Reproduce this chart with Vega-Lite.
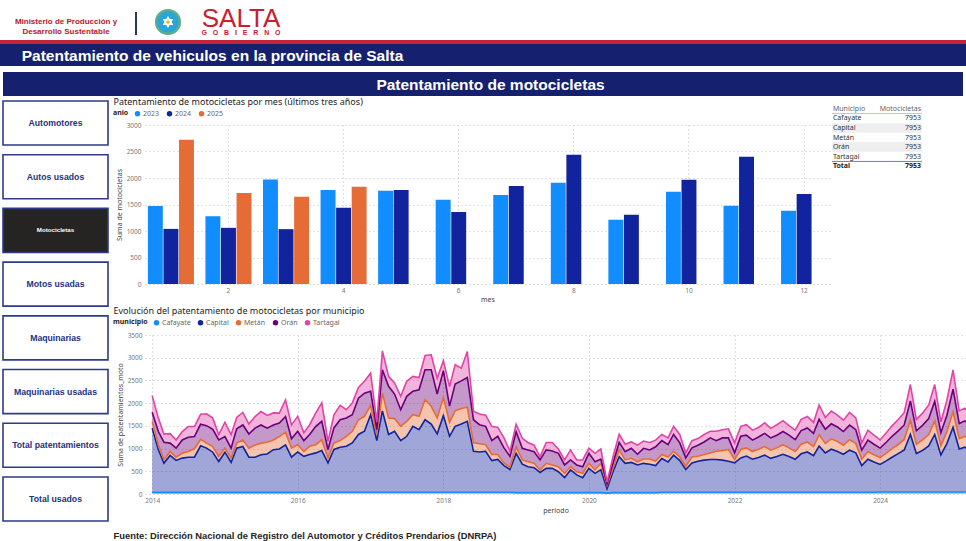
{
"$schema":"https://vega.github.io/schema/vega-lite/v6.json",
"padding":0,
"background":"#ffffff",
"spacing":0,
"resolve":{"scale":{"color":"independent","fill":"independent","size":"independent"},"legend":{"color":"independent","fill":"independent","size":"independent"}},
"config":{
 "view":{"stroke":null},
 "font":"Noto Sans",
 "axis":{"domain":false,"ticks":false,"gridDash":[1,3],"gridColor":"#c4c4c4","labelFontSize":6.5,"labelColor":"#777777","titleFontSize":7,"titleColor":"#444444","titleFontWeight":"normal","labelFont":"Noto Sans","titleFont":"Noto Sans"},
 "legend":{"direction":"horizontal","titleOrient":"left","symbolType":"circle","symbolSize":30,"symbolOpacity":1,"labelFontSize":7,"titleFontSize":7,"labelColor":"#666666","titleColor":"#252423","titlePadding":5,"columnPadding":6,"labelOffset":2,"symbolStrokeWidth":0,"labelFont":"Noto Sans","titleFont":"Noto Sans"}
},
"vconcat":[
 {"hconcat":[
   {"width":1,"height":40,"data":{"values":[{}]},"mark":{"type":"rect","opacity":0}},
   {"width":130,"height":40,"data":{"values":[{}]},"mark":{"type":"text","text":["Ministerio de Producción y","Desarrollo Sustentable"],"font":"Liberation Sans","fontWeight":"bold","fontSize":8,"color":"#b5172b","align":"center","baseline":"middle","lineHeight":9.5,"dy":2}},
   {"width":4,"height":40,"data":{"values":[{}]},"mark":{"type":"rect","opacity":0}},
   {"vconcat":[
     {"width":2,"height":12,"data":{"values":[{}]},"mark":{"type":"rect","opacity":0}},
     {"width":2,"height":23,"view":{"fill":"#2b3566","stroke":null},"data":{"values":[{}]},"mark":{"type":"rect","opacity":0}}
   ],"spacing":0},
   {"width":14,"height":40,"data":{"values":[{}]},"mark":{"type":"rect","opacity":0}},
   {"vconcat":[
     {"width":28,"height":4,"data":{"values":[{}]},"mark":{"type":"rect","opacity":0}},
     {"width":28,"height":36,"data":{"values":[{}]},"layer":[
       {"mark":{"type":"point","shape":"circle","size":560,"filled":true,"fill":"#2ba4d8","stroke":"#5aae8f","strokeWidth":2.5,"opacity":1}},
       {"mark":{"type":"point","shape":"M0,-1L0.29,-0.5L0.87,-0.5L0.58,0L0.87,0.5L0.29,0.5L0,1L-0.29,0.5L-0.87,0.5L-0.58,0L-0.87,-0.5L-0.29,-0.5Z","size":150,"filled":true,"fill":"#ffffff","strokeWidth":0,"opacity":1}},
       {"mark":{"type":"point","shape":"circle","size":12,"filled":true,"fill":"#f0b429","strokeWidth":0,"opacity":1}}
     ]}
   ],"spacing":0},
   {"width":4,"height":40,"data":{"values":[{}]},"mark":{"type":"rect","opacity":0}},
   {"width":104,"height":40,"data":{"values":[{}]},"layer":[
     {"mark":{"type":"text","text":"SALTA","font":"Liberation Sans","fontSize":26,"color":"#c8202f","align":"center","baseline":"alphabetic","dy":7}},
     {"mark":{"type":"text","text":"G\u00a0\u00a0\u00a0O\u00a0\u00a0\u00a0B\u00a0\u00a0\u00a0I\u00a0\u00a0\u00a0E\u00a0\u00a0\u00a0R\u00a0\u00a0\u00a0N\u00a0\u00a0\u00a0O","font":"Liberation Sans","fontWeight":"bold","fontSize":7,"color":"#c8202f","align":"center","baseline":"alphabetic","dy":15}}
   ]}
 ],"spacing":0},
 {"width":966,"height":4,"view":{"fill":"#c1263d","stroke":null},"data":{"values":[{}]},"mark":{"type":"rect","opacity":0}},
 {"hconcat":[
   {"width":425,"height":22,"view":{"fill":"#15216e","stroke":null},"data":{"values":[{}]},"mark":{"type":"text","text":"Patentamiento de vehiculos en la provincia de Salta","font":"Liberation Sans","fontWeight":"bold","fontSize":15.5,"color":"#ffffff","align":"center","baseline":"middle","dy":1}},
   {"width":541,"height":22,"view":{"fill":"#15216e","stroke":null},"data":{"values":[{}]},"mark":{"type":"rect","opacity":0}}
 ],"spacing":0},
 {"width":966,"height":6,"data":{"values":[{}]},"mark":{"type":"rect","opacity":0}},
 {"hconcat":[
   {"width":3,"height":24,"data":{"values":[{}]},"mark":{"type":"rect","opacity":0}},
   {"width":17,"height":24,"view":{"fill":"#15216e","stroke":null},"data":{"values":[{}]},"mark":{"type":"rect","opacity":0}},
   {"width":941,"height":24,"view":{"fill":"#15216e","stroke":null},"data":{"values":[{}]},"mark":{"type":"text","text":"Patentamiento de motocicletas","font":"Liberation Sans","fontWeight":"bold","fontSize":15.5,"color":"#ffffff","align":"center","baseline":"middle","dy":1}},
   {"width":2,"height":24,"view":{"fill":"#15216e","stroke":null},"data":{"values":[{}]},"mark":{"type":"rect","opacity":0}}
 ],"spacing":0},
 {"hconcat":[
   {"width":3,"height":1,"data":{"values":[{}]},"mark":{"type":"rect","opacity":0}},
   {"vconcat":[
     {"width":105,"height":5,"data":{"values":[{}]},"mark":{"type":"rect","opacity":0}},
     {"width":105,"height":420,
      "data":{"values":[
        {"boton":"Automotores","estado":"inactivo"},
        {"boton":"Autos usados","estado":"inactivo"},
        {"boton":"Motocicletas","estado":"activo"},
        {"boton":"Motos usadas","estado":"inactivo"},
        {"boton":"Maquinarias","estado":"inactivo"},
        {"boton":"Maquinarias usadas","estado":"inactivo"},
        {"boton":"Total patentamientos","estado":"inactivo"},
        {"boton":"Total usados","estado":"inactivo"}
      ]},
      "encoding":{"y":{"field":"boton","type":"nominal","sort":null,"scale":{"paddingInner":0.18,"paddingOuter":0},"axis":null}},
      "layer":[
        {"mark":{"type":"rect","stroke":"#2e3a8c","strokeWidth":1.6},
         "encoding":{"fill":{"field":"estado","type":"nominal","scale":{"domain":["inactivo","activo"],"range":["#ffffff","#252423"]},"legend":null}}},
        {"mark":{"type":"text","font":"Liberation Sans","fontWeight":"bold","baseline":"middle"},
         "encoding":{"text":{"field":"boton"},
           "color":{"field":"estado","type":"nominal","scale":{"domain":["inactivo","activo"],"range":["#24327f","#ffffff"]},"legend":null},
           "size":{"field":"estado","type":"ordinal","scale":{"domain":["inactivo","activo"],"range":[8.7,6.2]},"legend":null}}}
      ]}
   ],"spacing":0,"bounds":"flush","resolve":{"scale":{"color":"independent","fill":"independent","size":"independent"},"legend":{"color":"independent","fill":"independent","size":"independent"}}},
   {"width":110,"height":1,"data":{"values":[{}]},"mark":{"type":"rect","opacity":0}},
   {"vconcat":[
     {"width":1,"height":1,"data":{"values":[{}]},"mark":{"type":"rect","opacity":0}},
     {"width":1,"height":9,"data":{"values":[{}]},"mark":{"type":"text","text":"Patentamiento de motocicletas por mes (últimos tres años)","font":"Noto Sans","fontSize":9,"color":"#252423","align":"left","baseline":"middle"}},
     {"width":1,"height":200,"data":{"values":[{}]},"mark":{"type":"rect","opacity":0}},
     {"width":1,"height":10,"data":{"values":[{}]},"mark":{"type":"text","text":"Evolución del patentamiento de motocicletas por municipio","font":"Noto Sans","fontSize":9,"color":"#252423","align":"left","baseline":"middle"}}
   ],"spacing":0,"bounds":"flush"},
   {"width":32,"height":1,"data":{"values":[{}]},"mark":{"type":"rect","opacity":0}},
   {"vconcat":[
     {"width":685,"height":29,"data":{"values":[{}]},"mark":{"type":"rect","opacity":0}},
     {"width":685,"height":159,
      "data":{"values":[
        {"mes":1,"anio":2023,"valor":1470},{"mes":1,"anio":2024,"valor":1040},{"mes":1,"anio":2025,"valor":2720},
        {"mes":2,"anio":2023,"valor":1280},{"mes":2,"anio":2024,"valor":1060},{"mes":2,"anio":2025,"valor":1715},
        {"mes":3,"anio":2023,"valor":1970},{"mes":3,"anio":2024,"valor":1035},{"mes":3,"anio":2025,"valor":1645},
        {"mes":4,"anio":2023,"valor":1775},{"mes":4,"anio":2024,"valor":1440},{"mes":4,"anio":2025,"valor":1835},
        {"mes":5,"anio":2023,"valor":1760},{"mes":5,"anio":2024,"valor":1775},
        {"mes":6,"anio":2023,"valor":1590},{"mes":6,"anio":2024,"valor":1360},
        {"mes":7,"anio":2023,"valor":1680},{"mes":7,"anio":2024,"valor":1850},
        {"mes":8,"anio":2023,"valor":1910},{"mes":8,"anio":2024,"valor":2440},
        {"mes":9,"anio":2023,"valor":1210},{"mes":9,"anio":2024,"valor":1305},
        {"mes":10,"anio":2023,"valor":1740},{"mes":10,"anio":2024,"valor":1965},
        {"mes":11,"anio":2023,"valor":1475},{"mes":11,"anio":2024,"valor":2400},
        {"mes":12,"anio":2023,"valor":1380},{"mes":12,"anio":2024,"valor":1700}
      ]},
      "mark":{"type":"bar"},
      "encoding":{
        "x":{"field":"mes","type":"ordinal","scale":{"paddingInner":0.2,"paddingOuter":0.05},
             "axis":{"values":[2,4,6,8,10,12],"bandPosition":0.5,"grid":true,"labelAngle":0,"labelPadding":3,"title":"mes","titlePadding":2}},
        "xOffset":{"field":"anio","type":"nominal","scale":{"paddingInner":0.04}},
        "y":{"field":"valor","type":"quantitative","scale":{"domain":[0,3000]},
             "axis":{"values":[0,500,1000,1500,2000,2500,3000],"format":"d","grid":true,"labelPadding":4,"title":"Suma de motocicletas","titlePadding":4}},
        "color":{"field":"anio","type":"nominal","scale":{"domain":[2023,2024,2025],"range":["#118DFF","#12239E","#E66C37"]},
             "legend":{"title":"anio","orient":"none","legendX":-32,"legendY":-15}}
      }},
     {"width":685,"height":51,"data":{"values":[{}]},"mark":{"type":"rect","opacity":0}},
     {"width":821,"height":159,
      "data":{"format":{"parse":{"periodo":"date:'%Y-%m'"}},"values":[
{"periodo":"2014-01","Cafayate":35,"Capital":1415,"Metán":145,"Orán":205,"Tartagal":365},
{"periodo":"2014-02","Cafayate":35,"Capital":940,"Metán":105,"Orán":295,"Tartagal":295},
{"periodo":"2014-03","Cafayate":35,"Capital":645,"Metán":75,"Orán":385,"Tartagal":178},
{"periodo":"2014-04","Cafayate":35,"Capital":815,"Metán":85,"Orán":185,"Tartagal":210},
{"periodo":"2014-05","Cafayate":35,"Capital":705,"Metán":70,"Orán":200,"Tartagal":180},
{"periodo":"2014-06","Cafayate":35,"Capital":755,"Metán":110,"Orán":290,"Tartagal":185},
{"periodo":"2014-07","Cafayate":35,"Capital":775,"Metán":125,"Orán":315,"Tartagal":235},
{"periodo":"2014-08","Cafayate":35,"Capital":775,"Metán":185,"Orán":270,"Tartagal":220},
{"periodo":"2014-09","Cafayate":35,"Capital":1025,"Metán":145,"Orán":330,"Tartagal":220},
{"periodo":"2014-10","Cafayate":35,"Capital":975,"Metán":110,"Orán":385,"Tartagal":260},
{"periodo":"2014-11","Cafayate":35,"Capital":885,"Metán":125,"Orán":380,"Tartagal":245},
{"periodo":"2014-12","Cafayate":35,"Capital":680,"Metán":110,"Orán":365,"Tartagal":115},
{"periodo":"2015-01","Cafayate":35,"Capital":885,"Metán":90,"Orán":255,"Tartagal":315},
{"periodo":"2015-02","Cafayate":35,"Capital":660,"Metán":95,"Orán":220,"Tartagal":295},
{"periodo":"2015-03","Cafayate":35,"Capital":975,"Metán":110,"Orán":315,"Tartagal":250},
{"periodo":"2015-04","Cafayate":35,"Capital":1010,"Metán":145,"Orán":330,"Tartagal":275},
{"periodo":"2015-05","Cafayate":35,"Capital":775,"Metán":200,"Orán":310,"Tartagal":220},
{"periodo":"2015-06","Cafayate":35,"Capital":775,"Metán":270,"Orán":370,"Tartagal":255},
{"periodo":"2015-07","Cafayate":35,"Capital":830,"Metán":255,"Orán":400,"Tartagal":295},
{"periodo":"2015-08","Cafayate":35,"Capital":845,"Metán":260,"Orán":310,"Tartagal":280},
{"periodo":"2015-09","Cafayate":35,"Capital":940,"Metán":215,"Orán":330,"Tartagal":265},
{"periodo":"2015-10","Cafayate":35,"Capital":955,"Metán":275,"Orán":295,"Tartagal":220},
{"periodo":"2015-11","Cafayate":35,"Capital":1045,"Metán":280,"Orán":345,"Tartagal":365},
{"periodo":"2015-12","Cafayate":35,"Capital":775,"Metán":200,"Orán":205,"Tartagal":305},
{"periodo":"2016-01","Cafayate":40,"Capital":885,"Metán":160,"Orán":295,"Tartagal":330},
{"periodo":"2016-02","Cafayate":40,"Capital":790,"Metán":110,"Orán":235,"Tartagal":170},
{"periodo":"2016-03","Cafayate":40,"Capital":830,"Metán":180,"Orán":260,"Tartagal":215},
{"periodo":"2016-04","Cafayate":40,"Capital":865,"Metán":180,"Orán":405,"Tartagal":295},
{"periodo":"2016-05","Cafayate":40,"Capital":915,"Metán":240,"Orán":405,"Tartagal":405},
{"periodo":"2016-06","Cafayate":40,"Capital":645,"Metán":110,"Orán":185,"Tartagal":180},
{"periodo":"2016-07","Cafayate":40,"Capital":940,"Metán":145,"Orán":330,"Tartagal":290},
{"periodo":"2016-08","Cafayate":40,"Capital":990,"Metán":145,"Orán":460,"Tartagal":315},
{"periodo":"2016-09","Cafayate":40,"Capital":1010,"Metán":220,"Orán":405,"Tartagal":180},
{"periodo":"2016-10","Cafayate":40,"Capital":1085,"Metán":255,"Orán":365,"Tartagal":260},
{"periodo":"2016-11","Cafayate":40,"Capital":1270,"Metán":325,"Orán":475,"Tartagal":235},
{"periodo":"2016-12","Cafayate":40,"Capital":1340,"Metán":330,"Orán":510,"Tartagal":260},
{"periodo":"2017-01","Cafayate":40,"Capital":1705,"Metán":205,"Orán":310,"Tartagal":400},
{"periodo":"2017-02","Cafayate":40,"Capital":1135,"Metán":135,"Orán":105,"Tartagal":170},
{"periodo":"2017-03","Cafayate":40,"Capital":1790,"Metán":390,"Orán":515,"Tartagal":415},
{"periodo":"2017-04","Cafayate":40,"Capital":1270,"Metán":365,"Orán":695,"Tartagal":220},
{"periodo":"2017-05","Cafayate":40,"Capital":1340,"Metán":280,"Orán":540,"Tartagal":245},
{"periodo":"2017-06","Cafayate":40,"Capital":1135,"Metán":315,"Orán":365,"Tartagal":295},
{"periodo":"2017-07","Cafayate":40,"Capital":1230,"Metán":330,"Orán":550,"Tartagal":330},
{"periodo":"2017-08","Cafayate":40,"Capital":1450,"Metán":255,"Orán":515,"Tartagal":330},
{"periodo":"2017-09","Cafayate":40,"Capital":1375,"Metán":295,"Orán":585,"Tartagal":270},
{"periodo":"2017-10","Cafayate":40,"Capital":1595,"Metán":440,"Orán":660,"Tartagal":315},
{"periodo":"2017-11","Cafayate":40,"Capital":1500,"Metán":390,"Orán":805,"Tartagal":330},
{"periodo":"2017-12","Cafayate":40,"Capital":1285,"Metán":350,"Orán":525,"Tartagal":350},
{"periodo":"2018-01","Cafayate":40,"Capital":1685,"Metán":400,"Orán":590,"Tartagal":220},
{"periodo":"2018-02","Cafayate":40,"Capital":1230,"Metán":305,"Orán":360,"Tartagal":430},
{"periodo":"2018-03","Cafayate":40,"Capital":1450,"Metán":345,"Orán":585,"Tartagal":425},
{"periodo":"2018-04","Cafayate":40,"Capital":1500,"Metán":340,"Orán":610,"Tartagal":280},
{"periodo":"2018-05","Cafayate":40,"Capital":1560,"Metán":310,"Orán":655,"Tartagal":570},
{"periodo":"2018-06","Cafayate":40,"Capital":900,"Metán":185,"Orán":510,"Tartagal":185},
{"periodo":"2018-07","Cafayate":40,"Capital":885,"Metán":180,"Orán":420,"Tartagal":235},
{"periodo":"2018-08","Cafayate":40,"Capital":900,"Metán":145,"Orán":405,"Tartagal":245},
{"periodo":"2018-09","Cafayate":40,"Capital":695,"Metán":135,"Orán":305,"Tartagal":315},
{"periodo":"2018-10","Cafayate":40,"Capital":720,"Metán":110,"Orán":400,"Tartagal":195},
{"periodo":"2018-11","Cafayate":40,"Capital":585,"Metán":60,"Orán":330,"Tartagal":220},
{"periodo":"2018-12","Cafayate":40,"Capital":500,"Metán":50,"Orán":240,"Tartagal":110},
{"periodo":"2019-01","Cafayate":30,"Capital":865,"Metán":145,"Orán":330,"Tartagal":165},
{"periodo":"2019-02","Cafayate":30,"Capital":625,"Metán":95,"Orán":255,"Tartagal":220},
{"periodo":"2019-03","Cafayate":30,"Capital":570,"Metán":110,"Orán":260,"Tartagal":165},
{"periodo":"2019-04","Cafayate":30,"Capital":550,"Metán":95,"Orán":255,"Tartagal":145},
{"periodo":"2019-05","Cafayate":30,"Capital":445,"Metán":55,"Orán":220,"Tartagal":70},
{"periodo":"2019-06","Cafayate":30,"Capital":535,"Metán":110,"Orán":295,"Tartagal":165},
{"periodo":"2019-07","Cafayate":30,"Capital":535,"Metán":75,"Orán":305,"Tartagal":190},
{"periodo":"2019-08","Cafayate":30,"Capital":460,"Metán":110,"Orán":295,"Tartagal":95},
{"periodo":"2019-09","Cafayate":30,"Capital":330,"Metán":95,"Orán":185,"Tartagal":110},
{"periodo":"2019-10","Cafayate":30,"Capital":500,"Metán":70,"Orán":150,"Tartagal":220},
{"periodo":"2019-11","Cafayate":30,"Capital":390,"Metán":70,"Orán":150,"Tartagal":110},
{"periodo":"2019-12","Cafayate":30,"Capital":330,"Metán":95,"Orán":145,"Tartagal":150},
{"periodo":"2020-01","Cafayate":30,"Capital":535,"Metán":110,"Orán":220,"Tartagal":110},
{"periodo":"2020-02","Cafayate":30,"Capital":425,"Metán":75,"Orán":180,"Tartagal":185},
{"periodo":"2020-03","Cafayate":30,"Capital":505,"Metán":140,"Orán":95,"Tartagal":220},
{"periodo":"2020-04","Cafayate":20,"Capital":95,"Metán":75,"Orán":35,"Tartagal":35},
{"periodo":"2020-05","Cafayate":30,"Capital":460,"Metán":75,"Orán":110,"Tartagal":145},
{"periodo":"2020-06","Cafayate":30,"Capital":790,"Metán":150,"Orán":165,"Tartagal":178},
{"periodo":"2020-07","Cafayate":30,"Capital":645,"Metán":75,"Orán":180,"Tartagal":165},
{"periodo":"2020-08","Cafayate":30,"Capital":665,"Metán":90,"Orán":220,"Tartagal":140},
{"periodo":"2020-09","Cafayate":30,"Capital":610,"Metán":70,"Orán":165,"Tartagal":200},
{"periodo":"2020-10","Cafayate":30,"Capital":645,"Metán":95,"Orán":235,"Tartagal":160},
{"periodo":"2020-11","Cafayate":30,"Capital":625,"Metán":115,"Orán":200,"Tartagal":165},
{"periodo":"2020-12","Cafayate":30,"Capital":595,"Metán":100,"Orán":315,"Tartagal":145},
{"periodo":"2021-01","Cafayate":40,"Capital":740,"Metán":90,"Orán":305,"Tartagal":135},
{"periodo":"2021-02","Cafayate":40,"Capital":665,"Metán":110,"Orán":270,"Tartagal":150},
{"periodo":"2021-03","Cafayate":40,"Capital":815,"Metán":85,"Orán":370,"Tartagal":180},
{"periodo":"2021-04","Cafayate":40,"Capital":695,"Metán":80,"Orán":310,"Tartagal":185},
{"periodo":"2021-05","Cafayate":40,"Capital":500,"Metán":70,"Orán":185,"Tartagal":110},
{"periodo":"2021-06","Cafayate":40,"Capital":645,"Metán":130,"Orán":200,"Tartagal":160},
{"periodo":"2021-07","Cafayate":40,"Capital":680,"Metán":110,"Orán":245,"Tartagal":145},
{"periodo":"2021-08","Cafayate":40,"Capital":705,"Metán":125,"Orán":275,"Tartagal":165},
{"periodo":"2021-09","Cafayate":40,"Capital":720,"Metán":145,"Orán":330,"Tartagal":145},
{"periodo":"2021-10","Cafayate":40,"Capital":720,"Metán":180,"Orán":235,"Tartagal":205},
{"periodo":"2021-11","Cafayate":40,"Capital":705,"Metán":210,"Orán":280,"Tartagal":180},
{"periodo":"2021-12","Cafayate":40,"Capital":680,"Metán":260,"Orán":255,"Tartagal":200},
{"periodo":"2022-01","Cafayate":40,"Capital":645,"Metán":75,"Orán":145,"Tartagal":220},
{"periodo":"2022-02","Cafayate":40,"Capital":755,"Metán":185,"Orán":290,"Tartagal":220},
{"periodo":"2022-03","Cafayate":40,"Capital":795,"Metán":180,"Orán":280,"Tartagal":230},
{"periodo":"2022-04","Cafayate":40,"Capital":725,"Metán":170,"Orán":250,"Tartagal":220},
{"periodo":"2022-05","Cafayate":40,"Capital":765,"Metán":180,"Orán":270,"Tartagal":210},
{"periodo":"2022-06","Cafayate":40,"Capital":815,"Metán":190,"Orán":290,"Tartagal":230},
{"periodo":"2022-07","Cafayate":40,"Capital":745,"Metán":180,"Orán":270,"Tartagal":210},
{"periodo":"2022-08","Cafayate":40,"Capital":785,"Metán":190,"Orán":280,"Tartagal":230},
{"periodo":"2022-09","Cafayate":40,"Capital":835,"Metán":210,"Orán":290,"Tartagal":240},
{"periodo":"2022-10","Cafayate":40,"Capital":785,"Metán":190,"Orán":280,"Tartagal":210},
{"periodo":"2022-11","Cafayate":40,"Capital":725,"Metán":170,"Orán":260,"Tartagal":210},
{"periodo":"2022-12","Cafayate":40,"Capital":845,"Metán":210,"Orán":300,"Tartagal":250},
{"periodo":"2023-01","Cafayate":40,"Capital":885,"Metán":220,"Orán":310,"Tartagal":250},
{"periodo":"2023-02","Cafayate":40,"Capital":805,"Metán":200,"Orán":290,"Tartagal":240},
{"periodo":"2023-03","Cafayate":40,"Capital":1015,"Metán":250,"Orán":340,"Tartagal":310},
{"periodo":"2023-04","Cafayate":40,"Capital":865,"Metán":210,"Orán":310,"Tartagal":260},
{"periodo":"2023-05","Cafayate":40,"Capital":945,"Metán":230,"Orán":330,"Tartagal":280},
{"periodo":"2023-06","Cafayate":40,"Capital":895,"Metán":220,"Orán":320,"Tartagal":260},
{"periodo":"2023-07","Cafayate":40,"Capital":835,"Metán":200,"Orán":300,"Tartagal":250},
{"periodo":"2023-08","Cafayate":40,"Capital":925,"Metán":230,"Orán":320,"Tartagal":280},
{"periodo":"2023-09","Cafayate":40,"Capital":865,"Metán":210,"Orán":300,"Tartagal":260},
{"periodo":"2023-10","Cafayate":40,"Capital":585,"Metán":140,"Orán":200,"Tartagal":160},
{"periodo":"2023-11","Cafayate":40,"Capital":725,"Metán":170,"Orán":250,"Tartagal":220},
{"periodo":"2023-12","Cafayate":40,"Capital":665,"Metán":160,"Orán":230,"Tartagal":200},
{"periodo":"2024-01","Cafayate":45,"Capital":605,"Metán":150,"Orán":210,"Tartagal":180},
{"periodo":"2024-02","Cafayate":45,"Capital":685,"Metán":170,"Orán":240,"Tartagal":210},
{"periodo":"2024-03","Cafayate":45,"Capital":765,"Metán":190,"Orán":270,"Tartagal":230},
{"periodo":"2024-04","Cafayate":45,"Capital":845,"Metán":200,"Orán":300,"Tartagal":250},
{"periodo":"2024-05","Cafayate":45,"Capital":925,"Metán":230,"Orán":320,"Tartagal":270},
{"periodo":"2024-06","Cafayate":45,"Capital":1265,"Metán":310,"Orán":430,"Tartagal":360},
{"periodo":"2024-07","Cafayate":45,"Capital":845,"Metán":200,"Orán":300,"Tartagal":250},
{"periodo":"2024-08","Cafayate":45,"Capital":915,"Metán":230,"Orán":320,"Tartagal":270},
{"periodo":"2024-09","Cafayate":45,"Capital":1015,"Metán":250,"Orán":350,"Tartagal":300},
{"periodo":"2024-10","Cafayate":45,"Capital":1265,"Metán":300,"Orán":430,"Tartagal":370},
{"periodo":"2024-11","Cafayate":45,"Capital":815,"Metán":200,"Orán":290,"Tartagal":240},
{"periodo":"2024-12","Cafayate":45,"Capital":1065,"Metán":260,"Orán":360,"Tartagal":330},
{"periodo":"2025-01","Cafayate":45,"Capital":1425,"Metán":340,"Orán":500,"Tartagal":420},
{"periodo":"2025-02","Cafayate":45,"Capital":945,"Metán":230,"Orán":330,"Tartagal":280},
{"periodo":"2025-03","Cafayate":45,"Capital":985,"Metán":240,"Orán":340,"Tartagal":280},
{"periodo":"2025-04","Cafayate":45,"Capital":915,"Metán":220,"Orán":320,"Tartagal":270}
      ]},
      "transform":[
        {"fold":["Cafayate","Capital","Metán","Orán","Tartagal"],"as":["municipio","valor"]},
        {"calculate":"indexof(['Cafayate','Capital','Metán','Orán','Tartagal'], datum.municipio)","as":"orden"}
      ],
      "mark":{"type":"area","opacity":0.4,"clip":true,"line":{"strokeWidth":1.6,"opacity":1,"clip":true}},
      "encoding":{
        "x":{"field":"periodo","type":"temporal",
             "scale":{"domain":[{"year":2013,"month":11,"date":26},{"year":2025,"month":3,"date":7}]},
             "axis":{"format":"%Y","tickCount":{"interval":"year","step":2},"grid":true,"labelFlush":false,"labelPadding":3,"title":"periodo","titlePadding":3}},
        "y":{"field":"valor","type":"quantitative","stack":"zero","scale":{"domain":[0,3500]},
             "axis":{"values":[0,500,1000,1500,2000,2500,3000,3500],"format":"d","grid":true,"labelPadding":3,"title":"Suma de patentamientos_moto","titlePadding":4}},
        "color":{"field":"municipio","type":"nominal",
             "scale":{"domain":["Cafayate","Capital","Metán","Orán","Tartagal"],"range":["#118DFF","#12239E","#E66C37","#6B007B","#E044A7"]},
             "legend":{"title":"municipio","orient":"none","legendX":-32,"legendY":-16,"symbolOpacity":1}},
        "order":{"field":"orden","type":"quantitative"}
      }}
   ],"spacing":0,"bounds":"flush","resolve":{"scale":{"color":"independent","fill":"independent","size":"independent"},"legend":{"color":"independent","fill":"independent","size":"independent"}}},
   {"width":687,"height":1,"data":{"values":[{}]},"mark":{"type":"rect","opacity":0}},
   {"vconcat":[
     {"width":90,"height":8,"data":{"values":[{}]},"mark":{"type":"rect","opacity":0}},
     {"width":90,"height":67,
      "data":{"values":[
        {"municipio":"Cafayate","motos":7953},{"municipio":"Capital","motos":7953},{"municipio":"Metán","motos":7953},
        {"municipio":"Orán","motos":7953},{"municipio":"Tartagal","motos":7953},{"municipio":"Total","motos":7953}
      ]},
      "layer":[
        {"transform":[{"filter":"datum.municipio == 'Capital' || datum.municipio == 'Orán'"}],
         "mark":{"type":"rect","color":"#eeeeee"},
         "encoding":{"y":{"field":"municipio","type":"nominal","scale":{"type":"band","domain":["Municipio","Cafayate","Capital","Metán","Orán","Tartagal","Total"],"paddingInner":0,"paddingOuter":0},"axis":null}}},
        {"data":{"values":[{}]},"mark":{"type":"rule","color":"#a9c9ea","strokeWidth":1},
         "encoding":{"y":{"datum":"Cafayate","type":"nominal","bandPosition":0,"axis":null}}},
        {"data":{"values":[{}]},"mark":{"type":"rule","color":"#3f8fdc","strokeWidth":1},
         "encoding":{"y":{"datum":"Total","type":"nominal","bandPosition":0,"axis":null}}},
        {"data":{"values":[{}]},"mark":{"type":"text","text":"Municipio","align":"left","baseline":"middle","fontSize":7,"color":"#666666"},
         "encoding":{"y":{"datum":"Municipio","type":"nominal","axis":null},
           "x":{"datum":"Municipio","type":"nominal","bandPosition":0,"scale":{"type":"band","domain":["Municipio","Motocicletas"],"paddingInner":0,"paddingOuter":0.02},"axis":null}}},
        {"data":{"values":[{}]},"mark":{"type":"text","text":"Motocicletas","align":"right","baseline":"middle","fontSize":7,"color":"#666666"},
         "encoding":{"y":{"datum":"Municipio","type":"nominal","axis":null},
           "x":{"datum":"Motocicletas","type":"nominal","bandPosition":1,"axis":null}}},
        {"transform":[{"filter":"datum.municipio != 'Total'"}],
         "mark":{"type":"text","align":"left","baseline":"middle","fontSize":7,"color":"#333333"},
         "encoding":{"y":{"field":"municipio","type":"nominal","axis":null},
           "x":{"datum":"Municipio","type":"nominal","bandPosition":0,"axis":null},
           "text":{"field":"municipio"}}},
        {"transform":[{"filter":"datum.municipio != 'Total'"}],
         "mark":{"type":"text","align":"right","baseline":"middle","fontSize":7,"color":"#333333"},
         "encoding":{"y":{"field":"municipio","type":"nominal","axis":null},
           "x":{"datum":"Motocicletas","type":"nominal","bandPosition":1,"axis":null},
           "text":{"field":"motos","type":"quantitative","format":"d"}}},
        {"transform":[{"filter":"datum.municipio == 'Total'"}],
         "mark":{"type":"text","align":"left","baseline":"middle","fontSize":7,"fontWeight":"bold","color":"#252423"},
         "encoding":{"y":{"field":"municipio","type":"nominal","axis":null},
           "x":{"datum":"Municipio","type":"nominal","bandPosition":0,"axis":null},
           "text":{"field":"municipio"}}},
        {"transform":[{"filter":"datum.municipio == 'Total'"}],
         "mark":{"type":"text","align":"right","baseline":"middle","fontSize":7,"fontWeight":"bold","color":"#252423"},
         "encoding":{"y":{"field":"municipio","type":"nominal","axis":null},
           "x":{"datum":"Motocicletas","type":"nominal","bandPosition":1,"axis":null},
           "text":{"field":"motos","type":"quantitative","format":"d"}}}
      ]}
   ],"spacing":0,"bounds":"flush"}
 ],"spacing":0,"bounds":"flush","resolve":{"scale":{"color":"independent","fill":"independent","size":"independent"},"legend":{"color":"independent","fill":"independent","size":"independent"}}},
 {"hconcat":[
   {"width":105,"height":19,"data":{"values":[{}]},"mark":{"type":"rect","opacity":0}},
   {"width":400,"height":19,"data":{"values":[{}]},"mark":{"type":"text","text":"Fuente: Dirección Nacional de Registro del Automotor y Créditos Prendarios (DNRPA)","font":"Liberation Sans","fontWeight":"bold","fontSize":9.4,"color":"#252423","align":"center","baseline":"middle","dy":4}}
 ],"spacing":0}
]
}
